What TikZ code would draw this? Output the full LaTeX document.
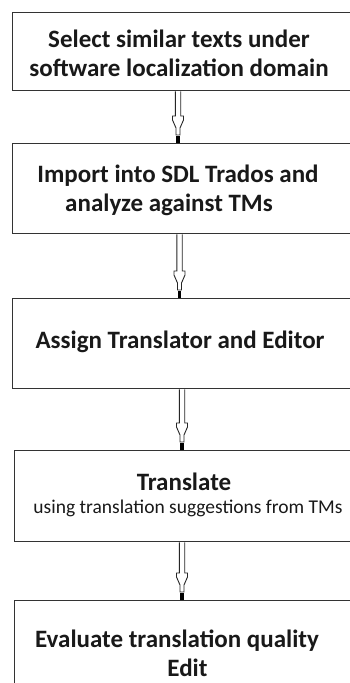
\documentclass[tikz,border=0pt]{standalone}
\usepackage{fontspec}
\setmainfont{Carlito}
\usetikzlibrary{calc}
\tikzset{
  box/.style={draw=black!80, line width=1.4pt, rectangle, anchor=north west, minimum width=360pt, inner sep=0pt},
  steptext/.style={align=center, font=\bfseries\fontsize{25}{29}\selectfont, text=black!90, inner sep=0pt},
  shaft/.style={draw=black!85, line width=0.9pt, fill=white, line join=miter},
  stub/.style={draw=black, line width=3.2pt}
}
\newcommand\flowarrow[3]{%
  \path (#1.south -| #3) coordinate (s) (#2.north -| #3) coordinate (t);
  \draw[shaft] ($(s)+(-2.7,0)$) -- ($(t)+(-2.7,27)$) -- ($(t)+(-5.5,27)$) -- ($(t)+(-5.5,23)$)
     -- ($(t)+(-2,15)$) -- ($(t)+(-2,8)$) -- ($(t)+(2,8)$) -- ($(t)+(2,15)$)
     -- ($(t)+(5.5,23)$) -- ($(t)+(5.5,27)$) -- ($(t)+(2.7,27)$) -- ($(s)+(2.7,0)$);
  \draw[stub] ($(t)+(0,7)$) -- (t);
}
\begin{document}
\begin{tikzpicture}[x=1pt,y=1pt]
\useasboundingbox (0,0) rectangle (350,-683);
\fill[white] (0,0) rectangle (350,-683);
\node[box, minimum height=78pt] (b1) at (12,-12) {};
\node[box, minimum height=90pt] (b2) at (12,-143) {};
\node[box, minimum height=90pt] (b3) at (12,-298) {};
\node[box, minimum height=91pt] (b4) at (14,-450) {};
\node[box, minimum height=130pt] (b5) at (14,-600) {};
\node[steptext] (t1) at (179,-53) {Select similar texts under\\software localization domain};
\node[steptext] (t2) at (178,-190) {Import into SDL Trados and\\analyze against TMs\hspace*{18pt}};
\node[steptext] (t3) at (180,-342) {Assign Translator and Editor};
\node[steptext] (t4) at (188,-495) {Translate\hspace*{8pt}\\[-6pt]{\mdseries\fontsize{19.5}{22}\selectfont using translation suggestions from TMs}};
\node[steptext] (t5) at (177,-653) {Evaluate translation quality\\\hspace*{21pt}Edit};
\coordinate (a1) at (178,0);
\coordinate (a2) at (179.5,0);
\coordinate (a3) at (182,0);
\coordinate (a4) at (182,0);
\flowarrow{b1}{b2}{a1}
\flowarrow{b2}{b3}{a2}
\flowarrow{b3}{b4}{a3}
\flowarrow{b4}{b5}{a4}
\end{tikzpicture}
\end{document}
